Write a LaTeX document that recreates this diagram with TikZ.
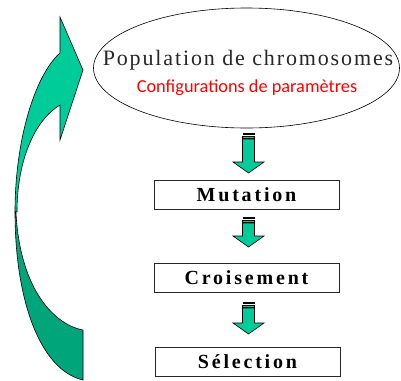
\documentclass[tikz,border=0pt]{standalone}
\usepackage{fontspec}
\setmainfont{Liberation Serif}
\newfontfamily\calib{Carlito}
\newfontfamily\popfont[LetterSpace=8.5]{Liberation Serif}
\newfontfamily\boxfont[LetterSpace=14]{Liberation Serif}
\usetikzlibrary{shapes.geometric}
\definecolor{lightgr}{RGB}{0,204,153}
\definecolor{darkgr}{RGB}{0,166,122}
\definecolor{redtxt}{RGB}{255,0,0}
\tikzset{
  stepbox/.style={draw=black!85, line width=0.8pt, minimum width=185pt, minimum height=29pt,
    inner sep=0pt, text height=13pt, text depth=0pt,
    font=\boxfont\bfseries\fontsize{20}{22}\selectfont},
  arrowfill/.style={fill=lightgr, draw=black, line width=0.6pt, line join=miter},
}
% striped block arrow: x, top, head start, tip
\newcommand\stripedarrow[4]{%
  \fill[black] (#1-6,#2) rectangle (#1+6,#2+2.2);
  \draw[fill=lightgr, line width=0.5pt] (#1-6,#2+3) rectangle (#1+6,#2+5);
  \draw[arrowfill] (#1-6,#2+6) -- (#1+6,#2+6) -- (#1+6,#3) -- (#1+15.5,#3) -- (#1,#4)
     -- (#1-15.5,#3) -- (#1-6,#3) -- cycle;
}
\begin{document}
\begin{tikzpicture}[x=1pt,y=-1pt]
\useasboundingbox (0,0) rectangle (401,380);
% curved return arrow
\draw[fill=lightgr, line width=0.6pt, line join=miter]
  (83,70) -- (60,17) -- (60,53) .. controls (35,75) and (15,140) .. (15,212)
  -- (17,212) .. controls (17,160) and (35,120) .. (60,105) -- (60,140) -- cycle;
\draw[fill=darkgr, line width=0.6pt, line join=miter]
  (15,212) .. controls (15,300) and (40,370) .. (83,380) -- (83,330)
  .. controls (55,325) and (20,290) .. (16,213) -- cycle;
% population ellipse
\node[ellipse, draw, line width=0.6pt, minimum width=306pt, minimum height=120pt, inner sep=0pt] (pop) at (246.5,68) {};
\node[anchor=base, inner sep=0pt, font=\popfont\fontsize{22}{25}\selectfont, text=black!85] (poptxt) at (248,65) {Population de chromosomes};
\node[anchor=base, inner sep=0pt, font=\calib\fontsize{18.3}{21}\selectfont, text=redtxt] (conf) at (247,92) {Configurations de paramètres};
% boxes
\node[stepbox] (mut) at (246.5,194.5) {Mutation};
\node[stepbox] (cro) at (246.5,278) {Croisement};
\node[stepbox] (sel) at (247.5,362) {Sélection};
% arrows
\stripedarrow{248.5}{133}{162}{173}
\stripedarrow{248.5}{217}{236}{247}
\stripedarrow{248.5}{302}{323}{334}
\end{tikzpicture}
\end{document}
